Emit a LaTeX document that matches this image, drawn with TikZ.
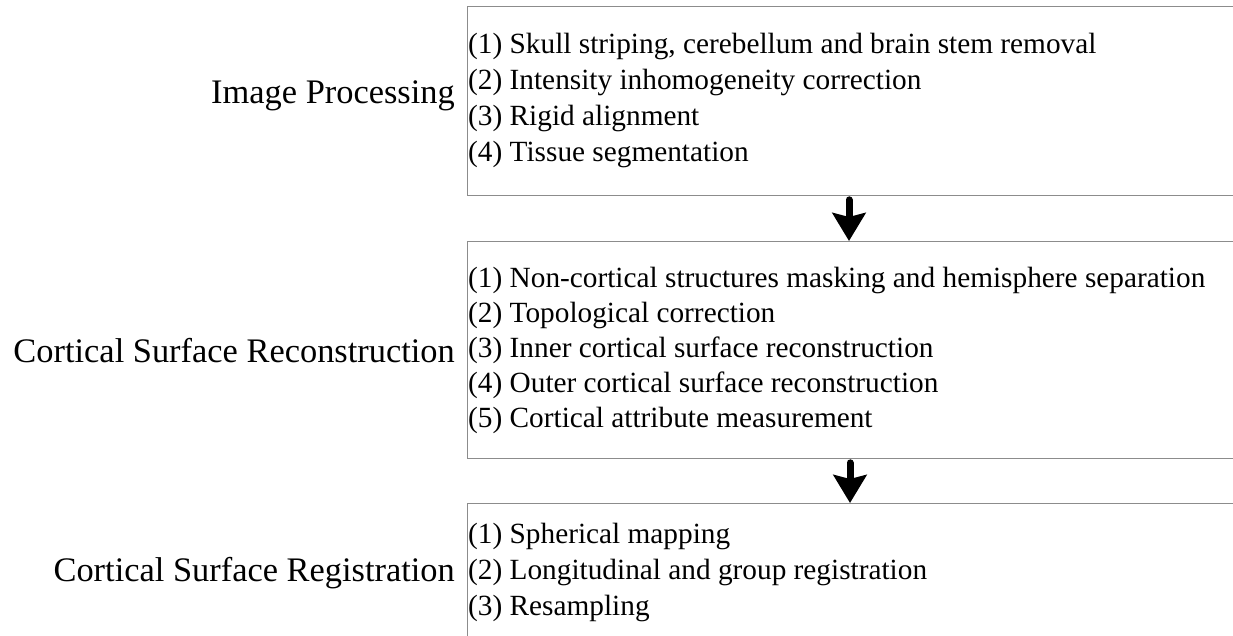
\documentclass[tikz,border=0pt]{standalone}
\usepackage{fontspec}
\setmainfont{Liberation Serif}
\usepackage{tikz}
\usetikzlibrary{calc, arrows.meta, positioning}
\definecolor{boxgray}{RGB}{140,140,140}

\begin{document}
\begin{tikzpicture}[x=1pt, y=-1pt,
    panel/.style = {draw=boxgray, line width=1.3pt, rectangle, anchor=north west,
                    minimum width=800pt, inner sep=0pt},
    stage/.style = {anchor=base east, inner sep=0pt, font=\fontsize{34.4}{40}\selectfont},
    steps/.style = {anchor=west, align=left, inner xsep=2pt, inner ysep=0pt,
                    font=\fontsize{29.3}{36}\selectfont},
    flow/.style = {line width=7pt, line cap=round,
                   -{Stealth[width=33pt, length=28pt, inset=4pt]}}]
      \path [use as bounding box, clip] (0,0) rectangle (1233,635);

      % three stage panels, open to the right
      \node [panel, minimum height=189pt] (p1) at (467,6) {};
      \node [panel, minimum height=217pt] (p2) at (467,241) {};
      \node [panel, minimum height=160pt] (p3) at (467,503) {};

      % step lists
      \node [steps] (s1) at (466,100)
        {(1) Skull striping, cerebellum and brain stem removal\\
         (2) Intensity inhomogeneity correction\\
         (3) Rigid alignment\\
         (4) Tissue segmentation};
      \node [steps, font=\fontsize{29.3}{35}\selectfont] (s2) at (466,350)
        {(1) Non-cortical structures masking and hemisphere separation\\
         (2) Topological correction\\
         (3) Inner cortical surface reconstruction\\
         (4) Outer cortical surface reconstruction\\
         (5) Cortical attribute measurement};
      \node [steps] (s3) at (466,572)
        {(1) Spherical mapping\\
         (2) Longitudinal and group registration\\
         (3) Resampling};

      % stage names
      \node [stage] (l1) at (455,103) {Image Processing};
      \node [stage] (l2) at (455,362) {Cortical Surface Reconstruction};
      \node [stage] (l3) at (455,581) {Cortical Surface Registration};

      \draw [flow] ($ (p1.south west) + (382,3.5) $) -- ($ (p2.north west) + (382,0) $);
      \draw [flow] ($ (p2.south west) + (383,3.5) $) -- ($ (p3.north west) + (383,0) $);
\end{tikzpicture}
\end{document}
